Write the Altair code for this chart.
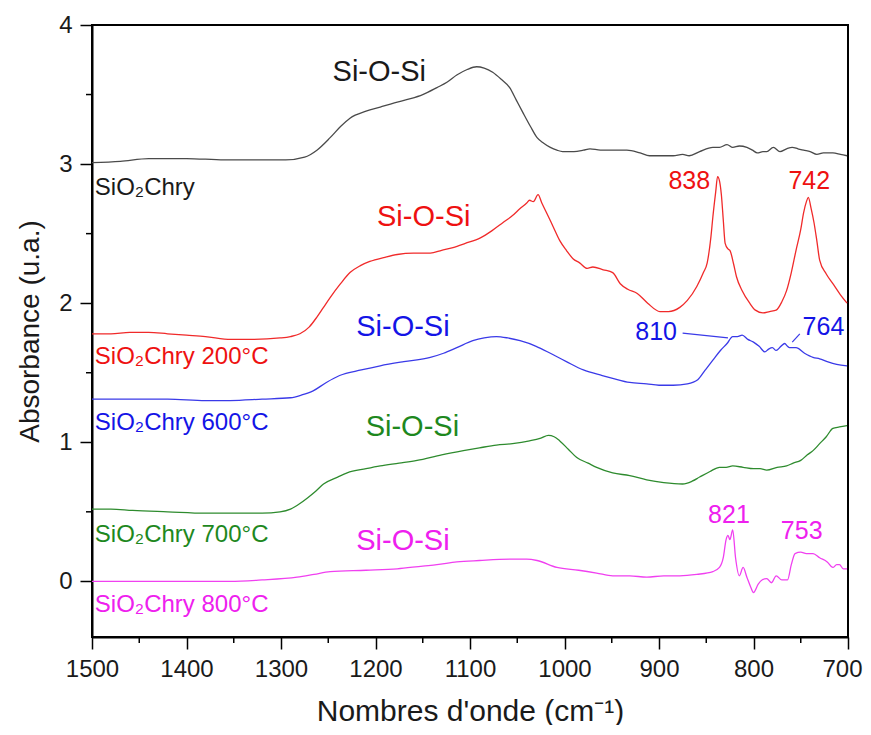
import altair as alt
import pandas as pd

# ---- data ----
black_wn = [1500, 1470, 1440, 1400, 1360, 1320, 1295, 1275, 1262, 1248, 1237, 1227, 1210, 1195, 1180, 1163, 1150, 1135, 1124, 1114, 1103, 1093, 1085, 1076, 1067, 1058, 1051, 1044, 1036, 1029, 1022, 1015, 1008, 1002, 990, 980, 973, 962, 950, 934, 920, 910, 895, 885, 875, 868, 857, 843, 836, 828, 822, 815, 807, 801, 796, 790, 786, 779, 772, 765, 759, 753, 747, 740, 733, 726, 716, 708, 701]
black_val = [3.01, 3.02, 3.04, 3.04, 3.03, 3.03, 3.03, 3.05, 3.10, 3.19, 3.27, 3.33, 3.38, 3.41, 3.44, 3.47, 3.50, 3.55, 3.59, 3.64, 3.68, 3.70, 3.69, 3.66, 3.61, 3.55, 3.46, 3.37, 3.27, 3.19, 3.15, 3.12, 3.10, 3.09, 3.09, 3.10, 3.11, 3.10, 3.10, 3.10, 3.08, 3.06, 3.06, 3.06, 3.07, 3.06, 3.09, 3.12, 3.12, 3.14, 3.12, 3.13, 3.12, 3.10, 3.08, 3.09, 3.09, 3.12, 3.09, 3.11, 3.12, 3.11, 3.10, 3.09, 3.07, 3.08, 3.08, 3.07, 3.06]

red_wn = [1500, 1480, 1460, 1440, 1420, 1400, 1380, 1353, 1330, 1301, 1290, 1280, 1270, 1262, 1255, 1248, 1237, 1227, 1216, 1206, 1190, 1177, 1160, 1142, 1130, 1118, 1105, 1089, 1077, 1065, 1055, 1047, 1040, 1037, 1033, 1028, 1024, 1019, 1012, 1005, 998, 991, 984, 976, 970, 959, 949, 941, 933, 923, 912, 899, 890, 878, 870, 860, 853, 849, 845, 843, 840, 838, 836, 834, 832, 830, 827, 825, 821, 818, 812, 804, 798, 790, 783, 776, 770, 765, 760, 755, 750, 747, 744, 742, 739, 736, 733, 730, 723, 716, 708, 701]
red_val = [1.78, 1.78, 1.79, 1.79, 1.78, 1.77, 1.76, 1.74, 1.74, 1.75, 1.76, 1.78, 1.83, 1.90, 1.97, 2.04, 2.14, 2.22, 2.27, 2.30, 2.33, 2.35, 2.36, 2.36, 2.38, 2.40, 2.43, 2.47, 2.52, 2.58, 2.63, 2.68, 2.72, 2.74, 2.73, 2.78, 2.72, 2.65, 2.55, 2.45, 2.38, 2.32, 2.29, 2.25, 2.26, 2.24, 2.22, 2.14, 2.10, 2.07, 2.00, 1.94, 1.94, 1.97, 2.02, 2.12, 2.22, 2.29, 2.48, 2.62, 2.80, 2.91, 2.88, 2.78, 2.60, 2.43, 2.39, 2.38, 2.28, 2.19, 2.09, 2.00, 1.95, 1.93, 1.94, 1.95, 2.01, 2.09, 2.22, 2.38, 2.53, 2.65, 2.73, 2.76, 2.68, 2.58, 2.45, 2.31, 2.21, 2.14, 2.06, 2.00]

blue_wn = [1500, 1460, 1420, 1380, 1354, 1320, 1290, 1278, 1266, 1252, 1238, 1215, 1195, 1170, 1142, 1128, 1114, 1097, 1085, 1072, 1060, 1047, 1030, 1015, 998, 980, 960, 949, 931, 913, 900, 885, 870, 859, 851, 843, 835, 828, 822, 817, 812, 806, 800, 794, 788, 784, 780, 776, 771, 767, 764, 762, 755, 746, 737, 730, 722, 712, 701]
blue_val = [1.31, 1.31, 1.31, 1.30, 1.30, 1.31, 1.32, 1.34, 1.37, 1.43, 1.48, 1.52, 1.55, 1.58, 1.61, 1.64, 1.68, 1.73, 1.75, 1.76, 1.75, 1.73, 1.69, 1.64, 1.58, 1.52, 1.48, 1.46, 1.43, 1.42, 1.41, 1.41, 1.42, 1.45, 1.52, 1.59, 1.66, 1.71, 1.76, 1.76, 1.77, 1.74, 1.72, 1.69, 1.65, 1.67, 1.68, 1.66, 1.69, 1.71, 1.69, 1.68, 1.68, 1.64, 1.61, 1.60, 1.58, 1.56, 1.55]

green_wn = [1500, 1480, 1457, 1420, 1380, 1350, 1320, 1301, 1290, 1280, 1272, 1263, 1255, 1240, 1230, 1210, 1195, 1175, 1156, 1130, 1107, 1090, 1072, 1055, 1037, 1025, 1017, 1011, 1005, 996, 987, 975, 966, 949, 931, 913, 895, 875, 865, 857, 846, 836, 829, 822, 811, 800, 793, 786, 775, 765, 758, 750, 743, 737, 730, 723, 716, 709, 701]
green_val = [0.52, 0.52, 0.51, 0.50, 0.49, 0.49, 0.49, 0.50, 0.52, 0.56, 0.60, 0.65, 0.70, 0.75, 0.78, 0.81, 0.83, 0.85, 0.87, 0.91, 0.94, 0.96, 0.98, 0.99, 1.01, 1.03, 1.05, 1.04, 1.01, 0.95, 0.89, 0.85, 0.82, 0.78, 0.76, 0.73, 0.71, 0.70, 0.72, 0.75, 0.79, 0.82, 0.82, 0.83, 0.82, 0.81, 0.81, 0.80, 0.82, 0.83, 0.85, 0.87, 0.91, 0.94, 0.99, 1.04, 1.10, 1.11, 1.12]

magenta_wn = [1500, 1450, 1400, 1354, 1320, 1283, 1265, 1248, 1210, 1177, 1150, 1135, 1114, 1090, 1054, 1040, 1029, 1008, 985, 966, 949, 931, 913, 895, 878, 860, 843, 836, 832, 829, 827, 825, 822, 819, 815, 811, 807, 803, 800, 795, 791, 786, 781, 776, 770, 764, 760, 756, 750, 744, 737, 730, 722, 716, 712, 709, 705, 701]
magenta_val = [0.00, 0.00, 0.00, 0.00, 0.01, 0.03, 0.05, 0.07, 0.08, 0.09, 0.11, 0.12, 0.14, 0.15, 0.16, 0.16, 0.15, 0.10, 0.08, 0.06, 0.04, 0.04, 0.03, 0.04, 0.04, 0.05, 0.07, 0.10, 0.17, 0.30, 0.33, 0.30, 0.37, 0.17, 0.04, 0.10, 0.03, -0.04, -0.08, -0.02, 0.01, 0.02, -0.01, 0.04, 0.01, 0.01, 0.12, 0.20, 0.21, 0.20, 0.20, 0.17, 0.14, 0.10, 0.12, 0.12, 0.09, 0.09]

series_names = ["SiO2Chry", "200", "600", "700", "800"]
line_colors = ["#4a4a4a", "#f02a2a", "#3a3ae8", "#2e8b2e", "#f040f0"]
text_colors = ["#1a1a1a", "#ee1111", "#1414e6", "#1e881e", "#ee20ee"]

# annotations
label_text = ["Si-O-Si", "Si-O-Si", "Si-O-Si", "Si-O-Si", "Si-O-Si",
              "838", "742", "810", "764", "821", "753"]
label_x = [1196, 1149, 1171, 1161, 1171, 868, 741, 903, 726, 826, 749]
label_y = [3.66, 2.62, 1.83, 1.11, 0.29, 2.88, 2.88, 1.79, 1.83, 0.48, 0.36]
label_series = [0, 1, 2, 3, 4, 1, 1, 2, 2, 4, 4]
label_size = [29, 29, 29, 29, 29, 25, 25, 25, 25, 25, 25]

sample_text = ["SiO\u2082Chry", "SiO\u2082Chry 200\u00b0C", "SiO\u2082Chry 600\u00b0C",
               "SiO\u2082Chry 700\u00b0C", "SiO\u2082Chry 800\u00b0C"]
sample_x = [1497, 1497, 1497, 1497, 1497]
sample_y = [2.83, 1.61, 1.14, 0.33, -0.17]

leader_x = [875, 751]
leader_y = [1.785, 1.78]
leader_x2 = [827, 759]
leader_y2 = [1.75, 1.72]

x_major = list(range(700, 1501, 100))
x_minor = list(range(750, 1500, 100))
y_major = [0, 1, 2, 3, 4]
y_minor = [0.5, 1.5, 2.5, 3.5]

PLOT_W = 756
PLOT_H = 612

# ---- tables ----
rows = []
for name, wn, val in zip(series_names,
                         [black_wn, red_wn, blue_wn, green_wn, magenta_wn],
                         [black_val, red_val, blue_val, green_val, magenta_val]):
    for a, b in zip(wn, val):
        rows.append({"series": name, "wn": a, "val": b})
lines_df = pd.DataFrame(rows)

ann_df = pd.DataFrame({
    "text": label_text, "wn": label_x, "val": label_y,
    "color": [text_colors[i] for i in label_series], "size": label_size,
})
samp_df = pd.DataFrame({
    "text": sample_text, "wn": sample_x, "val": sample_y, "color": text_colors,
})
lead_df = pd.DataFrame({"wn": leader_x, "val": leader_y, "wn2": leader_x2, "val2": leader_y2})
xminor_df = pd.DataFrame({"wn": x_minor})
yminor_df = pd.DataFrame({"val": y_minor})

FONT = "Liberation Sans"

x_scale = alt.Scale(domain=[700, 1500], reverse=True, nice=False, zero=False)
y_scale = alt.Scale(domain=[-0.4, 4], nice=False, zero=False)

x_axis = alt.Axis(
    title="Nombres d'onde (cm\u207b\u00b9)",
    values=x_major, tickSize=12,
    labelPadding=8, labelFlush=False, labelOverlap=False,
    labelOffset={"condition": {"test": "datum.value == 700", "value": -6}, "value": 0},
    titleY=74, titleBaseline="middle", titleFontSize=30,
    format="d",
)
y_axis = alt.Axis(
    title="Absorbance (u.a.)",
    values=y_major, tickSize=12,
    labelPadding=8, labelFlush=False, labelOverlap=False,
    titleX=-62, titleY=306, titleAngle=-90, titleBaseline="middle", titleAlign="center",
    titleFontSize=28,
    format="d",
)

lines = alt.Chart(lines_df).mark_line(strokeWidth=1.3, interpolate="monotone").encode(
    x=alt.X("wn:Q", scale=x_scale, axis=x_axis),
    y=alt.Y("val:Q", scale=y_scale, axis=y_axis),
    color=alt.Color("series:N", scale=alt.Scale(domain=series_names, range=line_colors), legend=None),
    detail="series:N",
)

xminor = alt.Chart(xminor_df).mark_rule(color="black", strokeWidth=1.5).encode(
    x=alt.X("wn:Q", scale=x_scale),
    y=alt.value(PLOT_H),
    y2=alt.value(PLOT_H + 6),
)
yminor = alt.Chart(yminor_df).mark_rule(color="black", strokeWidth=1.5).encode(
    y=alt.Y("val:Q", scale=y_scale),
    x=alt.value(0),
    x2=alt.value(-6),
)

ann = alt.Chart(ann_df).mark_text(font=FONT, align="center", baseline="middle").encode(
    x=alt.X("wn:Q", scale=x_scale),
    y=alt.Y("val:Q", scale=y_scale),
    text="text:N",
    color=alt.Color("color:N", scale=None),
    size=alt.Size("size:Q", scale=None),
)

samp = alt.Chart(samp_df).mark_text(font=FONT, align="left", baseline="middle", fontSize=24).encode(
    x=alt.X("wn:Q", scale=x_scale),
    y=alt.Y("val:Q", scale=y_scale),
    text="text:N",
    color=alt.Color("color:N", scale=None),
)

lead = alt.Chart(lead_df).mark_rule(color="#3a3ae8", strokeWidth=1.2).encode(
    x=alt.X("wn:Q", scale=x_scale),
    y=alt.Y("val:Q", scale=y_scale),
    x2="wn2:Q",
    y2="val2:Q",
)

chart = alt.layer(lines, lead, xminor, yminor, ann, samp).properties(
    width=PLOT_W, height=PLOT_H,
    autosize=alt.AutoSizeParams(type="none"),
    padding={"left": 84, "top": 17, "right": 15, "bottom": 88},
    background="white",
).configure_view(
    stroke="black", strokeWidth=2,
).configure_axis(
    grid=False,
    domainColor="black", domainWidth=2,
    tickColor="black", tickWidth=1.5,
    labelFont=FONT, labelFontSize=24, labelColor="#1a1a1a",
    titleFont=FONT, titleFontWeight="normal", titleColor="#1a1a1a",
)

chart.save("out.html", embed_options={"renderer": "svg", "actions": False})
